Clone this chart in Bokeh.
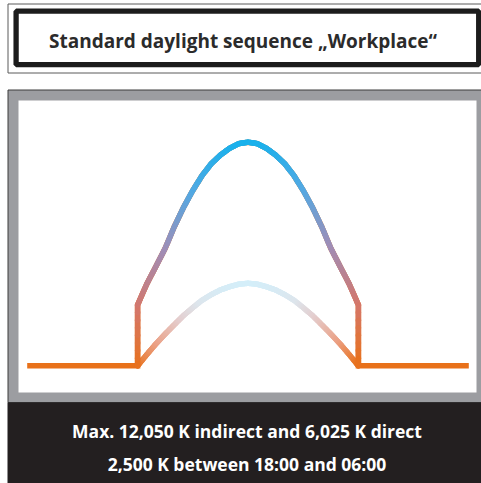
import numpy as np
from bokeh.plotting import figure
from bokeh.models import Range1d, Label, ColumnDataSource
from bokeh.embed import file_html
from bokeh.resources import INLINE

# ---------------- data ----------------
title_text = "Standard daylight sequence \u201eWorkplace\u201c"
note_lines = ["Max. 12,050 K indirect and 6,025 K direct",
              "2,500 K between 18:00 and 06:00"]

# indirect (outer) curve, hours of the day -> colour temperature in K
hours_indirect = [0, 6, 6, 6.5, 7, 7.5, 8, 8.5, 9, 9.5, 10, 10.5, 11, 11.5, 12,
                  12.5, 13, 13.5, 14, 14.5, 15, 15.5, 16, 16.5, 17, 17.5, 18, 18, 24]
kelvin_indirect = [2500, 2500, 5100, 6000, 6750, 7520, 8450, 9270, 9990, 10620, 11130,
                   11500, 11790, 11990, 12050, 11990, 11790, 11500, 11130, 10620, 9990,
                   9270, 8450, 7520, 6750, 6000, 5100, 2500, 2500]

# direct (inner) curve
hours_direct = [6, 6.5, 7, 7.5, 8, 8.5, 9, 9.5, 10, 10.5, 11, 11.5, 12,
                12.5, 13, 13.5, 14, 14.5, 15, 15.5, 16, 16.5, 17, 17.5, 18]
kelvin_direct = [2500, 2980, 3440, 3860, 4260, 4650, 4985, 5300, 5540, 5740, 5880, 5985, 6025,
                 5985, 5880, 5740, 5540, 5300, 4985, 4650, 4260, 3860, 3440, 2980, 2500]

# colour stops (K -> colour) for the two gradients
stops_indirect = [(2500, "#e8711a"), (5000, "#d5776a"), (7500, "#a08db6"),
                  (10000, "#52a9e3"), (12050, "#19b1ec")]
stops_direct = [(2500, "#e8711a"), (3500, "#eba186"), (4500, "#e4cccc"),
                (5200, "#dde5ec"), (6025, "#d4eef9")]

# ---------------- layout (page pixels) ----------------
W, H = 481, 483
PX0, PY0 = 0, 0
X_CENTER, PX_PER_H = 247.5, 18.4   # 12:00 position and hour width
Y_BASE, Y_PEAK = 365.3, 141.7      # pixel rows of 2500 K and 12050 K
K_PER_PX = (12050 - 2500) / (Y_BASE - Y_PEAK)

h_start = 12 + (PX0 - X_CENTER) / PX_PER_H
h_end = 12 + (PX0 + W - X_CENTER) / PX_PER_H
k_bottom = 2500 - (PY0 + H - Y_BASE) * K_PER_PX
k_top = 2500 + (Y_BASE - PY0) * K_PER_PX

p = figure(width=W, height=H, output_backend="svg", toolbar_location=None,
           x_range=Range1d(PX0, PX0 + W), y_range=Range1d(PY0 + H, PY0),
           min_border=0, x_axis_location=None, y_axis_location=None)
p.grid.visible = False
p.outline_line_color = None
p.background_fill_color = "white"
p.border_fill_color = "white"
p.extra_x_ranges = {"hours": Range1d(h_start, h_end)}
p.extra_y_ranges = {"kelvin": Range1d(k_bottom, k_top)}

# title box
p.quad(left=[7.5], right=[495], top=[3.5], bottom=[72.5], fill_color=None,
       line_color="#5a5a5a", line_width=1)
p.quad(left=[15.6], right=[478.2], top=[10.7], bottom=[64.2], fill_color="white",
       line_color="#1c1c1c", line_width=5.3)
p.add_layout(Label(x=242.5, y=40, text=title_text, text_align="center",
                   text_baseline="middle", text_font="Open Sans", text_font_style="bold",
                   text_font_size="19px", text_color="#2b2b2b"))

# chart panel
p.quad(left=[7.5], right=[495], top=[89.5], bottom=[402], fill_color="#9c9da1",
       line_color="#3c3c3c", line_width=1)
p.quad(left=[18], right=[476], top=[100], bottom=[392], fill_color="white", line_color=None)

# dark footer
p.quad(left=[7], right=[495], top=[402], bottom=[495], fill_color="#231f20", line_color=None)
for txt, yy in zip(note_lines, [430, 463]):
    p.add_layout(Label(x=246.5, y=yy, text=txt, text_align="center", text_baseline="middle",
                       text_font="Open Sans", text_font_style="bold", text_font_size="17.5px",
                       text_color="white"))


def hex2rgb(h):
    return np.array([int(h[i:i + 2], 16) for i in (1, 3, 5)], dtype=float)


def colour_at(k, stops):
    ks = [s[0] for s in stops]
    rgb = np.array([hex2rgb(s[1]) for s in stops])
    c = [np.interp(k, ks, rgb[:, j]) for j in range(3)]
    return "#%02x%02x%02x" % tuple(int(round(v)) for v in c)


def gradient_segments(hs, ks, stops, pieces=8):
    """Split each drawn segment into short pieces so that the stroke colour
    can follow the colour temperature (rendering of the gradient only)."""
    x0, y0, x1, y1, col = [], [], [], [], []
    for i in range(len(hs) - 1):
        if ks[i] == ks[i + 1] == 2500 and hs[i] != hs[i + 1] and (hs[i] in (0, 18)):
            continue  # flat night-time part: drawn as plain orange base line
        for j in range(pieces):
            t0, t1 = j / pieces, (j + 1) / pieces
            xa = hs[i] + (hs[i + 1] - hs[i]) * t0
            xb = hs[i] + (hs[i + 1] - hs[i]) * t1
            ya = ks[i] + (ks[i + 1] - ks[i]) * t0
            yb = ks[i] + (ks[i + 1] - ks[i]) * t1
            x0.append(xa); y0.append(ya); x1.append(xb); y1.append(yb)
            col.append(colour_at((ya + yb) / 2, stops))
    return ColumnDataSource(dict(x0=x0, y0=y0, x1=x1, y1=y1, c=col))


LW = 5.5
# base line (night) for the indirect curve
p.line(hours_indirect, kelvin_indirect, line_color="#e8711a", line_width=LW,
       line_join="miter", line_cap="butt", x_range_name="hours", y_range_name="kelvin")

src_d = gradient_segments(hours_direct, kelvin_direct, stops_direct)
p.segment("x0", "y0", "x1", "y1", source=src_d, line_color="c", line_width=LW,
          line_cap="round", x_range_name="hours", y_range_name="kelvin")

src_i = gradient_segments(hours_indirect, kelvin_indirect, stops_indirect)
p.segment("x0", "y0", "x1", "y1", source=src_i, line_color="c", line_width=LW,
          line_cap="round", x_range_name="hours", y_range_name="kelvin")

open("out.html", "w").write(file_html(p, INLINE))
